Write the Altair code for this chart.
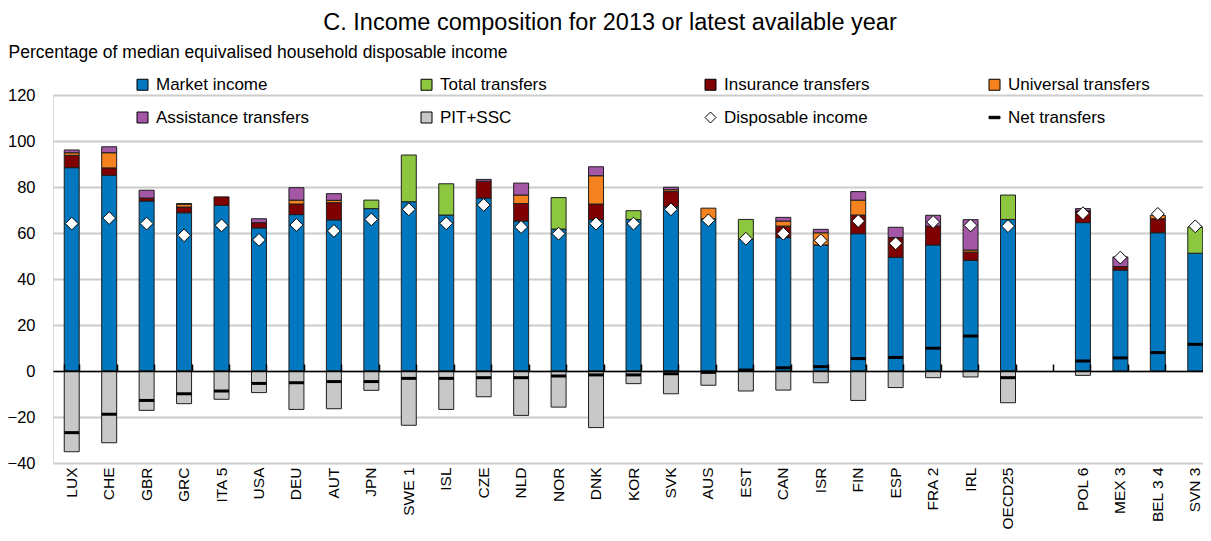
import altair as alt
import pandas as pd

countries = ["LUX", "CHE", "GBR", "GRC", "ITA 5", "USA", "DEU", "AUT", "JPN", "SWE 1",
             "ISL", "CZE", "NLD", "NOR", "DNK", "KOR", "SVK", "AUS", "EST", "CAN",
             "ISR", "FIN", "ESP", "FRA 2", "IRL", "OECD25", "POL 6", "MEX 3", "BEL 3 4", "SVN 3"]
x_domain = countries[:26] + [" "] + countries[26:]

market = [88.4, 85.1, 73.9, 68.8, 72.0, 62.2, 68.0, 65.7, 70.6, 73.6,
          67.8, 75.2, 65.2, 61.7, 65.8, 65.9, 71.4, 66.2, 57.2, 58.0,
          54.8, 59.7, 49.4, 54.8, 48.1, 65.9, 64.5, 43.9, 60.1, 51.2]
total_transfers = [0, 0, 0, 0, 0, 0, 0, 0, 3.7, 20.3,
                   13.6, 0, 0, 13.7, 0, 3.8, 0, 0, 8.7, 0,
                   0, 0, 0, 0, 0, 10.6, 0, 0, 0, 11.4]
insurance = [5.4, 3.2, 1.3, 2.5, 3.7, 2.3, 4.6, 7.5, 0, 0,
             0, 7.3, 7.6, 0, 6.8, 0, 6.6, 0, 0, 5.0,
             0, 8.1, 8.6, 8.2, 3.6, 0, 5.1, 1.5, 6.1, 0]
universal = [1.1, 6.6, 0, 1.2, 0, 0, 1.7, 1.0, 0, 0,
             0, 0, 3.7, 0, 12.3, 0, 0.8, 4.6, 0, 2.2,
             5.3, 6.5, 0, 0, 0.9, 0, 0, 0, 1.5, 0]
assistance = [1.2, 2.6, 3.4, 0.3, 0, 1.7, 5.4, 2.9, 0, 0,
              0, 0.8, 5.2, 0, 3.9, 0, 1.1, 0, 0, 1.6,
              1.5, 3.7, 4.5, 4.7, 13.2, 0, 1.0, 4.2, 0, 0]
pit_ssc = [-35.1, -31.2, -17.1, -14.2, -12.3, -9.4, -16.7, -16.4, -8.4, -23.6,
           -16.7, -11.2, -19.3, -15.7, -24.6, -5.5, -9.9, -6.2, -8.7, -8.3,
           -5.1, -12.8, -7.2, -2.9, -2.6, -13.8, -1.9, 0, 0, 0]
disposable = [64.1, 66.5, 64.1, 59.0, 63.3, 57.0, 63.5, 60.9, 65.9, 70.3,
              64.2, 72.2, 62.6, 59.7, 64.1, 64.1, 70.3, 65.5, 57.5, 59.7,
              56.8, 65.2, 55.5, 64.8, 63.3, 63.0, 68.6, 49.3, 68.3, 62.9]
net_transfers = [-26.8, -18.8, -12.8, -9.9, -8.7, -5.4, -5.1, -4.6, -4.6, -3.2,
                 -3.2, -2.9, -2.9, -2.2, -1.7, -1.7, -1.2, -0.6, 0.4, 1.4,
                 1.9, 5.4, 5.9, 9.9, 15.2, -2.9, 4.3, 5.7, 8.0, 11.6]

legend_names = ["Market income", "Total transfers", "Insurance transfers", "Universal transfers",
                "Assistance transfers", "PIT+SSC", "Disposable income", "Net transfers"]
legend_colors = ["#0077BE", "#8DC63F", "#7F0000", "#F5821F", "#A457A4", "#C8C8C8", "#FFFFFF", "#000000"]
legend_shapes = ["square", "square", "square", "square", "square", "square", "diamond",
                 "M-1,-0.22H1V0.22H-1Z"]

series = [("Market income", market), ("Total transfers", total_transfers),
          ("Insurance transfers", insurance), ("Universal transfers", universal),
          ("Assistance transfers", assistance), ("PIT+SSC", pit_ssc)]
rows = []
for k, (name, vals) in enumerate(series):
    for c, v in zip(countries, vals):
        if v != 0:
            rows.append({"country": c, "component": name, "value": v, "ord": k})
bars_df = pd.DataFrame(rows)
pts_df = pd.DataFrame({"country": countries, "disposable": disposable, "net": net_transfers})
leg_df = pd.DataFrame({"component": legend_names, "country": [countries[0]] * 8, "value": [None] * 8})

FONT = "Liberation Sans"
PLOT_W = 1161
PLOT_H = 368
xscale = alt.Scale(domain=x_domain, paddingInner=0.6, paddingOuter=0.3)
yscale = alt.Scale(domain=[-40, 120], nice=False, zero=False)
cscale = alt.Scale(domain=legend_names, range=legend_colors)
sscale = alt.Scale(domain=legend_names, range=legend_shapes)


def make_legend():
    return alt.Legend(title=None, orient="none", legendX=81, legendY=-19, direction="horizontal",
                      columns=4, gridAlign="all", columnPadding=108, rowPadding=15,
                      labelFontSize=17, labelFont=FONT, labelColor="black",
                      symbolSize=121, labelOffset=5, padding=0, labelLimit=400,
                      symbolStrokeWidth=1, symbolOpacity=1)


def y_enc(field, stack=None):
    ax = alt.Axis(values=[-40, -20, 0, 20, 40, 60, 80, 100, 120],
                  title="Percentage of median equivalised household disposable income",
                  titleAngle=0, titleAlign="left", titleBaseline="middle",
                  titleX=-45, titleY=-43, titleFontSize=17.5, titleFontWeight="normal",
                  titleFont=FONT, titleColor="black",
                  labelFontSize=16.5, labelColor="black", labelPadding=18, labelFont=FONT,
                  domain=False, ticks=False, gridColor="#cccccc", gridWidth=2)
    if stack:
        return alt.Y(field, scale=yscale, stack=stack, axis=ax)
    return alt.Y(field, scale=yscale, axis=ax)


x_bottom = alt.X("country:N", scale=xscale, sort=x_domain,
                 axis=alt.Axis(title=None, labelAngle=-90, labelAlign="right", labelBaseline="middle",
                               labelFontSize=15.5, labelColor="black", labelPadding=4,
                               ticks=False, domain=False, grid=False, labelFont=FONT))

leg = alt.Chart(leg_df).mark_point(filled=True, opacity=1, stroke="black", strokeWidth=1).encode(
    x=alt.X("country:N", scale=xscale, sort=x_domain, axis=None),
    y=y_enc("value:Q"),
    color=alt.Color("component:N", scale=cscale, legend=make_legend()),
    shape=alt.Shape("component:N", scale=sscale, legend=make_legend()),
)

bars = alt.Chart(bars_df).mark_bar(stroke="#1e1e1e", strokeWidth=1).encode(
    x=x_bottom,
    y=y_enc("value:Q", stack="zero"),
    color=alt.Color("component:N", scale=cscale, legend=make_legend()),
    order=alt.Order("ord:Q", sort="ascending"),
)

net = alt.Chart(pts_df).mark_tick(color="black", thickness=3, size=15, opacity=1).encode(
    x=alt.X("country:N", scale=xscale, sort=x_domain,
            axis=alt.Axis(orient="top", offset=-276, labels=False, title=None, grid=False,
                          domain=True, domainColor="black", domainWidth=1.5,
                          ticks=True, tickColor="black", tickWidth=1.5, tickSize=7,
                          tickBand="extent", zindex=1)),
    y=y_enc("net:Q"),
)

diam = alt.Chart(pts_df).mark_point(shape="diamond", filled=True, fill="white", stroke="black",
                                    strokeWidth=1, size=165, opacity=1).encode(
    x=alt.X("country:N", scale=xscale, sort=x_domain, axis=None),
    y=y_enc("disposable:Q"),
)

chart = alt.layer(leg, bars, net, diam).resolve_axis(x="independent").properties(
    width=PLOT_W, height=PLOT_H,
    title=alt.TitleParams("C. Income composition for 2013 or latest available year",
                          fontSize=23.5, fontWeight="normal", font=FONT, color="black",
                          anchor="middle", dx=-23.5, offset=9),
    autosize=alt.AutoSizeParams(type="none"),
    padding={"left": 45, "top": 87, "right": -11, "bottom": 66},
).configure_view(strokeWidth=0, stroke="transparent").configure(font=FONT)

chart.save("out.html", embed_options={"renderer": "svg", "actions": False})
